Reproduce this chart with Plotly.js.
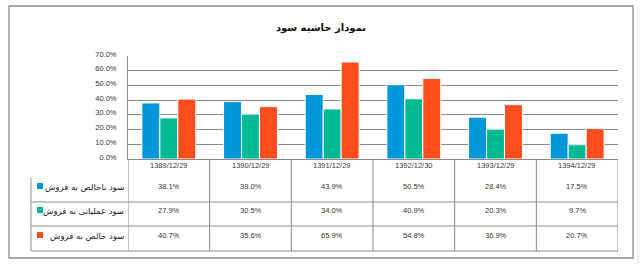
<!DOCTYPE html>
<html>
<head>
<meta charset="utf-8">
<script src="https://cdn.plot.ly/plotly-3.0.1.min.js"></script>
<style>html,body{margin:0;padding:0;background:#fff;}#chart{width:641px;height:267px;}</style>
</head>
<body>
<div id="chart"></div>
<script>
// ---- data ----
const categories = ['1389/12/29', '1390/12/29', '1391/12/29', '1392/12/30', '1393/12/29', '1394/12/29'];
const seriesNames = ['سود ناخالص به فروش', 'سود عملیاتی به فروش', 'سود خالص به فروش'];
const grossMargin = [38.1, 39.0, 43.9, 50.5, 28.4, 17.5];
const operatingMargin = [27.9, 30.5, 34.0, 40.9, 20.3, 9.7];
const netMargin = [40.7, 35.6, 65.9, 54.8, 36.9, 20.7];
const yTicks = [0, 10, 20, 30, 40, 50, 60, 70];
const titleText = 'نمودار حاشیه سود';

// ---- layout helpers (pixel -> paper) ----
const W = 641, H = 267;
const px = v => v / W;
const py = v => 1 - v / H;
const colors = ['#0096DA', '#00BA95', '#FF4D1D'];
const series = [grossMargin, operatingMargin, netMargin];
const gridCol = '#8a8a8a';
const numFont = {family: 'Liberation Sans, Arial, sans-serif', size: 7.5, color: '#333'};
const faFont = {family: 'DejaVu Sans, sans-serif', size: 8.5, color: '#222'};

const traces = series.map((vals, i) => ({
  type: 'bar',
  x: categories,
  y: vals,
  name: seriesNames[i],
  marker: {color: colors[i], line: {color: '#ffffff', width: 1}},
  hoverinfo: 'skip'
}));

const rowY = [186, 210, 235];
const rowLines = [202, 226, 251];
const shapes = [];
const annotations = [];

// outer border
shapes.push({type: 'rect', xref: 'paper', yref: 'paper', x0: px(9), x1: px(633), y0: py(258), y1: py(6), line: {color: '#8c8c8c', width: 1.3}});
shapes.push({type: 'line', xref: 'paper', yref: 'paper', x0: px(638), x1: px(638), y0: py(264), y1: py(5), line: {color: '#e2e2e2', width: 1}});

// table vertical lines on category boundaries
for (let k = 0; k <= categories.length; k++) {
  shapes.push({type: 'line', xref: 'x', yref: 'paper', x0: k - 0.5, x1: k - 0.5, y0: py(251), y1: py(159), line: {color: gridCol, width: 1}});
}
// table horizontal lines
rowLines.forEach(y => {
  shapes.push({type: 'line', xref: 'paper', yref: 'paper', x0: px(31), x1: px(618), y0: py(y), y1: py(y), line: {color: gridCol, width: 1}});
});
// legend column left line
shapes.push({type: 'line', xref: 'paper', yref: 'paper', x0: px(31), x1: px(31), y0: py(251), y1: py(178), line: {color: gridCol, width: 1}});

// header labels
categories.forEach((c, k) => {
  annotations.push({xref: 'x', yref: 'paper', x: k, y: py(165.5), text: c, showarrow: false, font: numFont, xanchor: 'center', yanchor: 'middle'});
});
// values + legend keys
series.forEach((vals, i) => {
  vals.forEach((v, k) => {
    annotations.push({xref: 'x', yref: 'paper', x: k, y: py(rowY[i]), text: v.toFixed(1) + '%', showarrow: false, font: numFont, xanchor: 'center', yanchor: 'middle'});
  });
  annotations.push({xref: 'paper', yref: 'paper', x: px(126), y: py(rowY[i] + 1), text: seriesNames[i], showarrow: false, font: faFont, xanchor: 'right', yanchor: 'middle'});
  shapes.push({type: 'rect', xref: 'paper', yref: 'paper', x0: px(37), x1: px(43), y0: py(rowY[i] + 3), y1: py(rowY[i] - 3), fillcolor: colors[i], line: {width: 0}});
});

const layout = {
  width: W, height: H,
  margin: {l: 0, r: 0, t: 0, b: 0},
  paper_bgcolor: '#ffffff', plot_bgcolor: '#ffffff',
  showlegend: false,
  barmode: 'group', bargap: 0.34, bargroupgap: 0,
  title: {text: '<b>' + titleText + '</b>', font: {family: 'DejaVu Sans, sans-serif', size: 10, color: '#111'}, x: px(321), xanchor: 'center', y: py(27), yanchor: 'middle'},
  xaxis: {
    domain: [px(128), px(618)], type: 'category', range: [-0.5, categories.length - 0.5],
    showticklabels: false, ticks: '', showgrid: false, zeroline: false,
    showline: true, linecolor: gridCol, linewidth: 1, fixedrange: true
  },
  yaxis: {
    domain: [py(159), py(56)], range: [0, 70], tickvals: yTicks,
    ticktext: yTicks.map(t => t.toFixed(1) + '%'),
    tickfont: numFont, showgrid: true, gridcolor: gridCol, gridwidth: 1,
    zeroline: false, showline: true, linecolor: gridCol, linewidth: 1,
    ticks: '', ticklabelstandoff: 9, ticklabelshift: -2, fixedrange: true
  },
  shapes: shapes,
  annotations: annotations
};

Plotly.newPlot('chart', traces, layout, {displayModeBar: false, staticPlot: true});
</script>
</body>
</html>
